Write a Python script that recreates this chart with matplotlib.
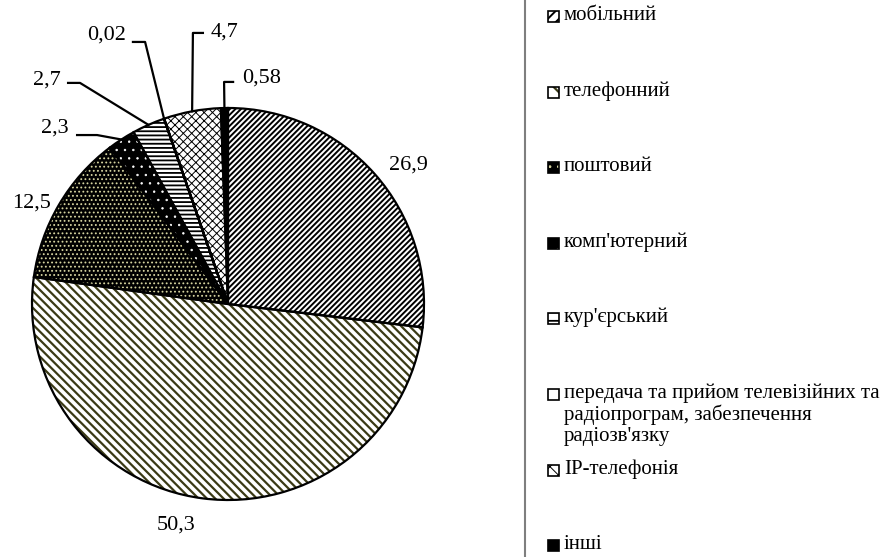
import numpy as np
import matplotlib.pyplot as plt
from matplotlib.patches import Rectangle

plt.rcParams['font.family'] = ['Liberation Serif', 'DejaVu Serif']
plt.rcParams['hatch.linewidth'] = 1.5

categories = ["мобільний", "телефонний", "поштовий", "комп'ютерний", "кур'єрський",
              "передача та прийом телевізійних та\nрадіопрограм, забезпечення\nрадіозв'язку",
              "IP-телефонія", "інші"]
shares = [26.9, 50.3, 12.5, 2.3, 2.7, 0.02, 4.7, 0.58]

# fill style of each slice: face colour, hatch, hatch colour, hatch line width
faces = ['white', 'white', 'black', 'black', 'white', 'white', 'white', 'black']
hatches = ['//////', '\\\\\\\\', '....', '..', '----', '', 'xxxx', '']
hatch_colors = ['black', '#3b3a16', '#d6d4a0', 'white', 'black', 'black', 'black', 'black']
hatch_lws = [1.4, 1.6, 0.8, 0.5, 1.3, 1.0, 0.7, 1.0]

# label placement (unit-radius coordinates) and leader elbows
label_pos = [(0.923, 0.709), (-0.265, -1.128), (-1.0, 0.515), (-0.883, 0.898),
             (-0.923, 1.143), (-0.622, 1.372), (-0.02, 1.388), (0.173, 1.153)]
leaders = [None, None, None,
           ((-0.770, 0.862), (-0.668, 0.862)),
           ((-0.816, 1.128), (-0.755, 1.128)),
           ((-0.485, 1.337), (-0.423, 1.337)),
           ((-0.128, 1.383), (-0.179, 1.383)),
           ((0.026, 1.133), (-0.020, 1.133))]

W, H = 893, 557
fig = plt.figure(figsize=(W / 100, H / 100), dpi=100)

cx, cy, r = 228, 304, 196
ax = fig.add_axes([(cx - r) / W, (H - cy - r) / H, 2 * r / W, 2 * r / H])

wedges, _ = ax.pie(shares, startangle=90, counterclock=False, colors=faces,
                   wedgeprops=dict(linewidth=0))
for w, h, hc, hlw in zip(wedges, hatches, hatch_colors, hatch_lws):
    w.set_hatch(h)
    w.set_edgecolor(hc)
    w.set_linewidth(0)
    if hasattr(w, 'set_hatch_linewidth'):
        w.set_hatch_linewidth(hlw)

# black outlines on top of the patterns
ax.pie(shares, startangle=90, counterclock=False,
       wedgeprops=dict(fill=False, edgecolor='black', linewidth=1.6))

for w, val, pos, lead in zip(wedges, shares, label_pos, leaders):
    ax.text(pos[0], pos[1], f"{val:g}".replace('.', ','), fontsize=16,
            ha='center', va='center')
    if lead is not None:
        mid = np.deg2rad((w.theta1 + w.theta2) / 2)
        xs = [lead[0][0], lead[1][0], np.cos(mid)]
        ys = [lead[0][1], lead[1][1], np.sin(mid)]
        ax.plot(xs, ys, color='black', lw=1.6, clip_on=False)

ax.set_xlim(-1, 1)
ax.set_ylim(-1, 1)
ax.set_aspect('auto')

# legend panel drawn in pixel coordinates
lg = fig.add_axes([0, 0, 1, 1])
lg.set_xlim(0, W)
lg.set_ylim(H, 0)
lg.axis('off')
lg.plot([525, 525], [0, H], color='#7f7f7f', lw=1.5)

top, slot = 17, 75.6
for i, (name, fc, h, hc, hlw) in enumerate(zip(categories, faces, hatches, hatch_colors, hatch_lws)):
    y = top + i * slot
    box = Rectangle((548, y - 6), 11, 11, facecolor=fc, edgecolor=hc, hatch=h[:max(1, len(h) // 2)] if h else '', lw=0)
    if hasattr(box, 'set_hatch_linewidth'):
        box.set_hatch_linewidth(hlw)
    lg.add_patch(box)
    lg.add_patch(Rectangle((548, y - 6), 11, 11, fill=False, edgecolor='black', lw=1.2))
    lg.text(564, y - 11.5, name, fontsize=15, ha='left', va='top', linespacing=1.12)

fig.savefig('out.png', dpi=100)
